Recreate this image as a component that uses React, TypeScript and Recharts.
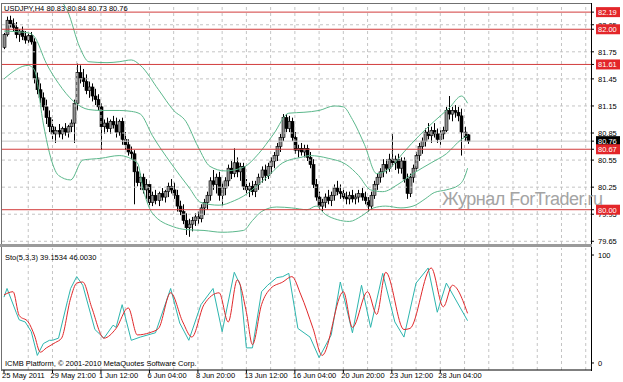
import { ComposedChart, Bar, Line, XAxis, YAxis, ReferenceLine } from 'recharts';

const FONT = '"Liberation Sans", Arial, sans-serif';
const BB = '#5cb88c';
const XMIN = -0.66;
const XMAX = 193.74;

// USDJPY H4 bars
const opens = [
  81.80, 81.94, 82.10, 82.06, 82.02, 81.94, 81.98, 81.92, 81.88, 81.93,
  81.86, 81.46, 81.33, 81.24, 81.14, 81.02, 80.92, 80.84, 80.88, 80.84,
  80.90, 80.86, 80.92, 80.96, 81.18, 81.52, 81.46, 81.42, 81.32, 81.36,
  81.26, 81.22, 81.14, 80.92, 80.96, 80.90, 80.98, 80.94, 80.86, 80.98,
  80.78, 80.72, 80.64, 80.62, 80.42, 80.30, 80.36, 80.22, 80.28, 80.08,
  80.16, 80.10, 80.18, 80.14, 80.20, 80.26, 80.22, 80.16, 80.04, 79.98,
  79.88, 79.80, 79.84, 79.88, 79.92, 79.90, 80.02, 80.08, 80.16, 80.32,
  80.28, 80.36, 80.16, 80.24, 80.32, 80.46, 80.40, 80.52, 80.42, 80.48,
  80.26, 80.22, 80.26, 80.20, 80.28, 80.36, 80.44, 80.38, 80.48, 80.54,
  80.60, 80.70, 80.80, 81.02, 80.90, 80.98, 80.80, 80.66, 80.68, 80.64,
  80.68, 80.58, 80.50, 80.28, 80.14, 80.04, 80.08, 80.14, 80.10, 80.16,
  80.24, 80.20, 80.18, 80.14, 80.12, 80.16, 80.12, 80.14, 80.18, 80.14,
  80.10, 80.04, 80.16, 80.28, 80.36, 80.42, 80.50, 80.46, 80.56, 80.52,
  80.56, 80.46, 80.54, 80.34, 80.18, 80.36, 80.46, 80.60, 80.70, 80.76,
  80.86, 80.82, 80.88, 80.84, 80.78, 80.84, 80.88, 81.10, 81.06, 81.10,
  81.08, 81.04, 80.86, 80.83,
];
const highs = [
  81.96, 82.14, 82.15, 82.12, 82.08, 82.00, 82.03, 81.98, 81.96, 81.97,
  81.90, 81.52, 81.40, 81.30, 81.22, 81.10, 81.00, 80.92, 80.95, 80.92,
  80.96, 80.94, 81.00, 81.22, 81.62, 81.60, 81.56, 81.50, 81.42, 81.40,
  81.34, 81.28, 81.18, 81.00, 81.02, 81.00, 81.04, 81.02, 81.00, 81.02,
  80.86, 80.78, 80.70, 80.66, 80.48, 80.40, 80.40, 80.34, 80.32, 80.20,
  80.22, 80.20, 80.24, 80.22, 80.30, 80.34, 80.30, 80.22, 80.10, 80.06,
  79.96, 79.90, 79.92, 79.96, 79.98, 80.06, 80.12, 80.20, 80.36, 80.44,
  80.40, 80.42, 80.30, 80.36, 80.50, 80.54, 80.68, 80.58, 80.52, 80.52,
  80.34, 80.30, 80.32, 80.32, 80.40, 80.48, 80.50, 80.52, 80.58, 80.64,
  80.74, 80.84, 81.06, 81.06, 81.04, 81.02, 80.86, 80.72, 80.74, 80.72,
  80.72, 80.64, 80.56, 80.34, 80.20, 80.12, 80.18, 80.22, 80.20, 80.28,
  80.32, 80.28, 80.24, 80.20, 80.20, 80.22, 80.18, 80.22, 80.24, 80.20,
  80.14, 80.20, 80.32, 80.40, 80.46, 80.56, 80.56, 80.62, 80.84, 80.60,
  80.62, 80.58, 80.58, 80.40, 80.40, 80.50, 80.64, 80.74, 80.80, 80.90,
  80.96, 80.92, 80.96, 80.90, 80.88, 80.92, 81.14, 81.26, 81.14, 81.16,
  81.14, 81.12, 80.92, 80.84,
];
const lows = [
  81.78, 81.92, 82.02, 81.98, 81.90, 81.86, 81.88, 81.84, 81.85, 81.83,
  81.40, 81.28, 81.18, 81.10, 80.95, 80.86, 80.78, 80.74, 80.80, 80.78,
  80.82, 80.80, 80.86, 80.74, 81.10, 81.40, 81.36, 81.28, 81.24, 81.20,
  81.16, 81.10, 80.66, 80.84, 80.86, 80.84, 80.90, 80.80, 80.82, 80.72,
  80.66, 80.60, 80.56, 80.06, 80.26, 80.22, 80.18, 80.12, 80.02, 80.04,
  80.06, 80.04, 80.10, 80.08, 80.14, 80.18, 80.12, 79.98, 79.94, 79.84,
  79.72, 79.70, 79.76, 79.82, 79.84, 79.86, 79.94, 80.00, 80.10, 80.22,
  80.18, 80.10, 80.04, 80.16, 80.26, 80.34, 80.36, 80.36, 80.32, 80.22,
  80.16, 80.14, 80.16, 80.14, 80.22, 80.30, 80.32, 80.34, 80.40, 80.46,
  80.54, 80.64, 80.76, 80.86, 80.86, 80.76, 80.62, 80.58, 80.60, 80.58,
  80.54, 80.46, 80.24, 80.10, 80.00, 79.98, 80.02, 80.06, 80.04, 80.10,
  80.16, 80.12, 80.10, 80.06, 80.06, 80.08, 80.06, 80.08, 80.10, 80.06,
  79.98, 80.00, 80.12, 80.22, 80.30, 80.36, 80.40, 80.42, 80.48, 80.44,
  80.40, 80.40, 80.30, 80.12, 80.14, 80.30, 80.42, 80.54, 80.62, 80.70,
  80.78, 80.74, 80.80, 80.74, 80.72, 80.78, 80.86, 81.00, 80.98, 81.02,
  80.98, 80.60, 80.76, 80.73,
];
const closes = [
  81.94, 82.10, 82.06, 82.02, 81.94, 81.98, 81.92, 81.88, 81.93, 81.86,
  81.46, 81.33, 81.24, 81.14, 81.02, 80.92, 80.84, 80.88, 80.84, 80.90,
  80.86, 80.92, 80.96, 81.18, 81.52, 81.46, 81.42, 81.32, 81.36, 81.26,
  81.22, 81.14, 80.92, 80.96, 80.90, 80.98, 80.94, 80.86, 80.98, 80.78,
  80.72, 80.64, 80.62, 80.42, 80.30, 80.36, 80.22, 80.28, 80.08, 80.16,
  80.10, 80.18, 80.14, 80.20, 80.26, 80.22, 80.16, 80.04, 79.98, 79.88,
  79.80, 79.84, 79.88, 79.92, 79.90, 80.02, 80.08, 80.16, 80.32, 80.28,
  80.36, 80.16, 80.24, 80.32, 80.46, 80.40, 80.52, 80.42, 80.48, 80.26,
  80.22, 80.26, 80.20, 80.28, 80.36, 80.44, 80.38, 80.48, 80.54, 80.60,
  80.70, 80.80, 81.02, 80.90, 80.98, 80.80, 80.66, 80.68, 80.64, 80.68,
  80.58, 80.50, 80.28, 80.14, 80.04, 80.08, 80.14, 80.10, 80.16, 80.24,
  80.20, 80.18, 80.14, 80.12, 80.16, 80.12, 80.14, 80.18, 80.14, 80.10,
  80.04, 80.16, 80.28, 80.36, 80.42, 80.50, 80.46, 80.56, 80.52, 80.56,
  80.46, 80.54, 80.34, 80.18, 80.36, 80.46, 80.60, 80.70, 80.76, 80.86,
  80.82, 80.88, 80.84, 80.78, 80.84, 80.88, 81.10, 81.06, 81.10, 81.08,
  81.04, 80.86, 80.80, 80.76,
];

// Bollinger bands (bar index, price)
const bbUpper: [number, number][] = [
  [0, 82.60], [8, 82.55], [14, 82.45], [18, 82.35], [21, 82.20], [25, 81.80], [28, 81.64],
  [34, 81.63], [38, 81.64], [42, 81.66], [45, 81.60], [51, 81.33], [56, 81.10], [60, 80.98],
  [64, 80.70], [68, 80.48], [73, 80.43], [79, 80.47], [84, 80.62], [89, 80.84], [94, 81.07],
  [99, 81.08], [104, 81.10], [109, 81.15], [112, 81.14], [115, 81.00], [119, 80.72],
  [123, 80.40], [127, 80.45], [132, 80.64], [137, 80.82], [142, 80.98], [147, 81.13],
  [151, 81.26], [153, 81.18],
];
const bbMiddle: [number, number][] = [
  [0, 81.98], [8, 81.96], [10, 81.92], [14, 81.62], [18, 81.40], [23, 81.20], [28, 81.11],
  [32, 81.10], [38, 81.10], [42, 81.09], [45, 81.06], [49, 80.82], [55, 80.52], [61, 80.25],
  [65, 80.08], [71, 80.05], [76, 80.10], [79, 80.15], [84, 80.28], [88, 80.40], [92, 80.52],
  [98, 80.58], [101, 80.60], [107, 80.57], [113, 80.50], [117, 80.38], [121, 80.22],
  [125, 80.20], [130, 80.28], [135, 80.40], [141, 80.52], [146, 80.62], [151, 80.78],
  [153, 80.82],
];
const bbLower: [number, number][] = [
  [0, 81.45], [8, 81.60], [10, 81.55], [13, 80.95], [15, 80.63], [18, 80.38], [22, 80.33],
  [26, 80.55], [32, 80.57], [38, 80.60], [44, 80.52], [46, 80.22], [49, 79.96], [56, 79.81],
  [60, 79.78], [66, 79.77], [72, 79.75], [79, 79.77], [82, 79.88], [85, 79.98], [90, 80.03],
  [95, 80.02], [100, 80.00], [103, 80.04], [106, 79.95], [110, 79.89], [114, 79.87],
  [118, 79.93], [122, 80.02], [126, 80.04], [131, 80.02], [135, 80.04], [139, 80.12],
  [142, 80.19], [146, 80.22], [150, 80.27], [152, 80.36], [153, 80.46],
];

// Stochastic (5,3,3): main and signal
const stoMain: [number, number][] = [
  [0, 61], [1, 69], [4, 47], [5, 40], [7, 38], [9, 29], [11, 7], [13, 18], [15, 21], [16, 21],
  [18, 23], [21, 58], [22, 69], [24, 80], [26, 72], [30, 31], [33, 23], [36, 35], [37, 33],
  [39, 54], [42, 21], [45, 24], [50, 28], [55, 69], [58, 37], [61, 21], [65, 54], [69, 69],
  [72, 29], [76, 84], [78, 72], [80, 14], [82, 14], [85, 66], [87, 72], [90, 79], [92, 80],
  [94, 83], [97, 32], [101, 24], [104, 5], [108, 26], [111, 75], [115, 28], [118, 72],
  [121, 33], [125, 83], [129, 38], [132, 24], [136, 74], [140, 88], [143, 47], [146, 74],
  [153, 39.15],
];
const stoSignal: [number, number][] = [
  [0, 63], [3, 66], [5, 44], [8, 38], [10, 26], [12, 10], [14, 14], [17, 19], [19, 23],
  [22, 60], [24, 74], [26, 75], [29, 51], [33, 23], [37, 32], [41, 51], [44, 26], [48, 28],
  [51, 32], [55, 65], [59, 38], [62, 24], [66, 54], [71, 65], [74, 38], [77, 77], [80, 47],
  [82, 17], [85, 54], [88, 69], [92, 75], [95, 80], [98, 63], [102, 32], [105, 7], [112, 66],
  [115, 33], [120, 66], [123, 45], [126, 84], [132, 31], [134, 32], [141, 88], [145, 52],
  [148, 72], [153, 46.0],
];

const priceTicks = [82.05, 81.75, 81.45, 81.15, 80.85, 80.55, 80.25, 79.95, 79.65];
const levels = [82.19, 82.0, 81.61, 80.67, 80.0];
const bid = 80.76;
const timeLabels = [
  '25 May 2011', '29 May 21:00', '1 Jun 12:00', '6 Jun 04:00', '8 Jun 20:00',
  '13 Jun 12:00', '16 Jun 04:00', '20 Jun 20:00', '23 Jun 12:00', '28 Jun 04:00',
];
const timeLabelBars = [0, 16, 32, 48, 64, 80, 96, 112, 128, 144];
const gridBars = [8, 16, 24, 32, 40, 48, 56, 64, 72, 80, 88, 96, 104, 112, 120, 128, 136, 144, 152, 160, 168, 176, 184, 192];

const candles = closes.map((c, i) => ({ i, o: opens[i], h: highs[i], l: lows[i], c, range: [lows[i], highs[i]] }));
const pts = (a: [number, number][]) => a.map(([i, v]) => ({ i, v }));

function Candle(props: any) {
  const { x, y, width, height, payload } = props;
  const { o, h, l, c } = payload;
  const top = height >= 0 ? y : y + height;
  const hh = Math.abs(height);
  const ppu = hh / (h - l);
  const cx = Math.round(x + width / 2) + 0.5;
  const yo = top + (h - o) * ppu;
  const yc = top + (h - c) * ppu;
  const by = Math.min(yo, yc);
  const bh = Math.max(Math.abs(yc - yo), 1);
  const bull = c >= o;
  return (
    <g>
      <line x1={cx} x2={cx} y1={top} y2={top + hh} stroke="#000" strokeWidth={1} />
      <rect x={cx - 1.5} y={by} width={3} height={bh} fill={bull ? '#8e8e8e' : '#000'} stroke="#000" strokeWidth={0.6} />
    </g>
  );
}

function AxisTag({ viewBox, text, fill, color }: any) {
  const { x, y, width } = viewBox;
  const ax = x + width;
  return (
    <g>
      <line x1={ax} x2={ax + 3} y1={y} y2={y} stroke="#000" />
      {fill && <rect x={ax + 5} y={y - 5} width={24} height={10} fill={fill} />}
      <text x={ax + 7} y={y + 3} fontSize={7.5} fill={color} fontFamily={FONT}>{text}</text>
    </g>
  );
}

function TimeTick({ x, y, payload }: any) {
  const k = timeLabelBars.indexOf(payload.value);
  return (
    <text x={x - 2} y={y + 5} fontSize={7.5} fill="#000" fontFamily={FONT} textAnchor="start">
      {timeLabels[k]}
    </text>
  );
}

export default function App() {
  return (
    <div style={{ position: 'absolute', left: 0, top: 0, width: 623, height: 382, background: '#fff', overflow: 'hidden' }}>
      <div style={{ position: 'absolute', left: 0, top: 0 }}>
        <ComposedChart width={623} height={246} data={candles} margin={{ top: 4, right: 32, bottom: 2, left: 2 }}>
          <XAxis dataKey="i" type="number" domain={[XMIN, XMAX]} hide allowDataOverflow />
          <YAxis type="number" domain={[79.62, 82.28]} hide allowDataOverflow />
          {gridBars.map((b) => (
            <ReferenceLine key={'gx' + b} x={b} stroke="#c4c4c4" strokeDasharray="3 3" />
          ))}
          {priceTicks.map((p) => (
            <ReferenceLine key={'gy' + p} y={p} stroke="#c4c4c4" strokeDasharray="3 3"
              label={(lp: any) => <AxisTag viewBox={lp.viewBox} text={p.toFixed(2)} color="#000" />} />
          ))}
          <ReferenceLine y={bid} stroke="#c8c8c8"
            label={(lp: any) => <AxisTag viewBox={lp.viewBox} text={bid.toFixed(2)} fill="#000" color="#fff" />} />
          <Line data={pts(bbUpper)} dataKey="v" type="monotone" stroke={BB} strokeWidth={1} dot={false} isAnimationActive={false} />
          <Line data={pts(bbMiddle)} dataKey="v" type="monotone" stroke={BB} strokeWidth={1} dot={false} isAnimationActive={false} />
          <Line data={pts(bbLower)} dataKey="v" type="monotone" stroke={BB} strokeWidth={1} dot={false} isAnimationActive={false} />
          <Bar dataKey="range" barSize={3} shape={Candle} isAnimationActive={false} />
          {levels.map((p) => (
            <ReferenceLine key={'lv' + p} y={p} stroke="#d23c3c" strokeWidth={1}
              label={(lp: any) => <AxisTag viewBox={lp.viewBox} text={p.toFixed(2)} fill="#e3262a" color="#fff" />} />
          ))}
        </ComposedChart>
      </div>
      <div style={{ position: 'absolute', left: 0, top: 247 }}>
        <ComposedChart width={623} height={135} margin={{ top: 1, right: 32, bottom: 0, left: 2 }}>
          <XAxis dataKey="i" type="number" domain={[XMIN, XMAX]} allowDataOverflow ticks={timeLabelBars}
            height={12} tickSize={3} tickMargin={0} axisLine={{ stroke: '#000' }} tickLine={{ stroke: '#000' }}
            tick={<TimeTick />} interval={0} />
          <YAxis type="number" domain={[-6.5, 106.5]} hide allowDataOverflow />
          {gridBars.map((b) => (
            <ReferenceLine key={'sx' + b} x={b} stroke="#c4c4c4" strokeDasharray="3 3" />
          ))}
          {[100, 0].map((v) => (
            <ReferenceLine key={'sy' + v} y={v} stroke="none"
              label={(lp: any) => <AxisTag viewBox={lp.viewBox} text={String(v)} color="#000" />} />
          ))}
          <Line data={pts(stoMain)} dataKey="v" type="linear" stroke="#2cb5ae" strokeWidth={1} dot={false} isAnimationActive={false} />
          <Line data={pts(stoSignal)} dataKey="v" type="monotone" stroke="#e0282a" strokeWidth={1} dot={false} isAnimationActive={false} />
        </ComposedChart>
      </div>
      <svg width={623} height={382} style={{ position: 'absolute', left: 0, top: 0, pointerEvents: 'none' }}>
        <line x1={1} x2={591.5} y1={3.5} y2={3.5} stroke="#707070" />
        <line x1={1.5} x2={1.5} y1={3} y2={371} stroke="#707070" />
        <line x1={591.5} x2={591.5} y1={3} y2={371} stroke="#000" />
        <rect x={0} y={244} width={592} height={3} fill="#9a9a9a" />
        <text x={4} y={11} fontSize={7.5} fontFamily={FONT} fill="#000">USDJPY,H4 80.83 80.84 80.73 80.76</text>
        <text x={5} y={259.5} fontSize={7.5} fontFamily={FONT} fill="#000">Sto(5,3,3) 39.1534 46.0030</text>
        <text x={5} y={366} fontSize={7.5} fontFamily={FONT} fill="#000">ICMB Platform, © 2001-2010 MetaQuotes Software Corp.</text>
        <text x={442} y={205} fontSize={18} fontFamily={FONT} fill="#a4a4a4" letterSpacing={-0.5}>Журнал ForTrader.ru</text>
      </svg>
    </div>
  );
}
